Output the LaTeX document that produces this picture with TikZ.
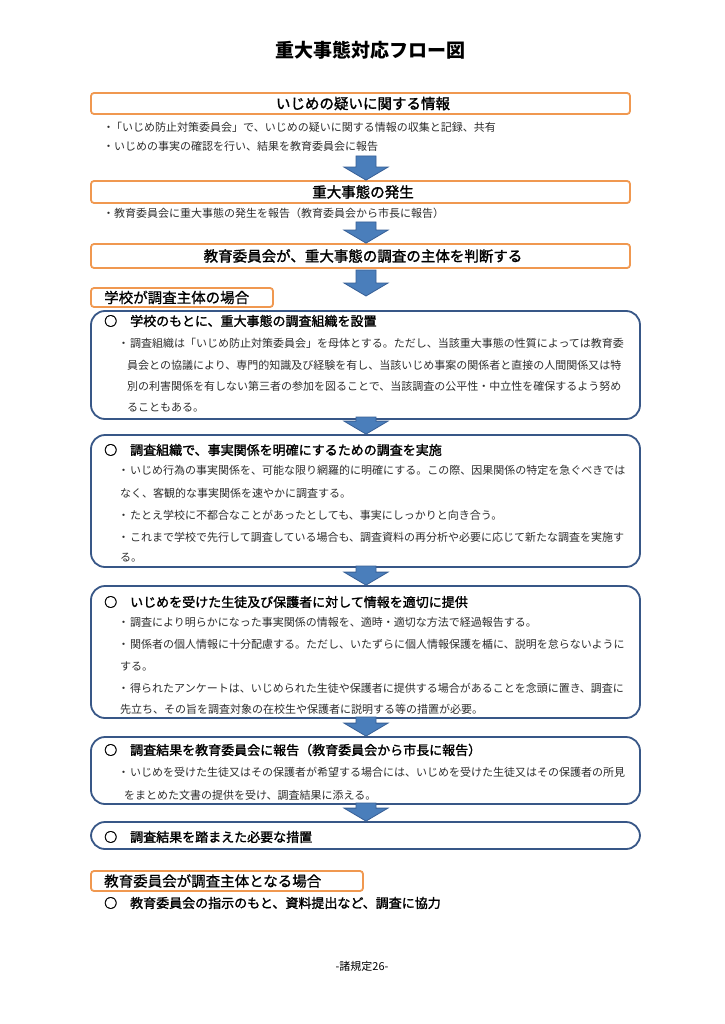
\documentclass[tikz,border=0pt]{standalone}
\usepackage{fontspec}
\setmainfont{Noto Sans CJK JP}
\newfontfamily\medfont{Noto Sans CJK JP}[FakeBold=1.6]
\newfontfamily\semifont{Noto Sans CJK JP}[FakeBold=0.8]
\usetikzlibrary{calc}
\definecolor{orangeline}{RGB}{240,152,80}
\definecolor{blueline}{RGB}{56,87,135}
\definecolor{arrowfill}{RGB}{74,126,187}
\definecolor{arrowline}{RGB}{55,95,150}
\definecolor{textgray}{RGB}{45,45,45}
\newcommand{\blockarrow}[2]{%
  \draw[arrowstyle] let \p1=(#1), \p2=(#2) in
    ({\x1-10pt},\y1) -- ({\x1+10pt},\y1) -- ({\x1+10pt},{\y2+13pt}) --
    ({\x1+22pt},{\y2+13pt}) -- (\x1,\y2) -- ({\x1-22pt},{\y2+13pt}) --
    ({\x1-10pt},{\y2+13pt}) -- cycle;}
\begin{document}
\begin{tikzpicture}[x=1pt,y=-1pt,
  obox/.style={draw=orangeline, line width=1.8pt, rounded corners=3pt, inner sep=0pt},
  bbox/.style={draw=blueline, line width=1.8pt, rounded corners=14pt, inner sep=0pt},
  boxhead/.style={font=\medfont\fontsize{14.5}{16}\selectfont, inner sep=0pt},
  labeltxt/.style={font=\semifont\fontsize{14.5}{16}\selectfont, anchor=west, inner sep=0pt},
  bhead/.style={font=\medfont\fontsize{13}{15}\selectfont, anchor=west, inner sep=0pt},
  linetxt/.style={font=\fontsize{11}{13}\selectfont, anchor=west, inner sep=0pt, text=textgray},
  arrowstyle/.style={draw=arrowline, fill=arrowfill, line width=0.8pt, line join=miter},
]
\fill[white] (0,0) rectangle (724,1024);
\useasboundingbox (0,0) rectangle (724,1024);

% title
\node[font=\fontsize{19}{22}\selectfont\bfseries, inner sep=0pt] (title) at (370,50) {重大事態対応フロー図};

% box 1
\node[obox, minimum width=539pt, minimum height=21pt] (b1) at (360.5,103.5) {};
\node[boxhead] (b1t) at (363,103.5) {いじめの疑いに関する情報};
\node[linetxt] (b1l1) at (103,127) {・\hspace{-3pt}「いじめ防止対策委員会」で、いじめの疑いに関する情報の収集と記録、共有};
\node[linetxt] (b1l2) at (103,146) {・いじめの事実の確認を行い、結果を教育委員会に報告};

% box 2
\node[obox, minimum width=539pt, minimum height=22pt] (b2) at (360.5,192) {};
\node[boxhead] (b2t) at (363,192) {重大事態の発生};
\node[linetxt] (b2l1) at (103,213) {・教育委員会に重大事態の発生を報告（教育委員会から市長に報告）};

% box 3
\node[obox, minimum width=539pt, minimum height=24pt] (b3) at (360.5,256) {};
\node[boxhead] (b3t) at (363,256) {教育委員会が、重大事態の調査の主体を判断する};

% label 1
\node[obox, minimum width=182pt, minimum height=19pt] (b4) at (182,297.5) {};
\node[labeltxt] (b4t) at (104,297.5) {学校が調査主体の場合};

% blue box A
\node[bbox, minimum width=549pt, minimum height=108pt] (bA) at (365.5,365) {};
\node[bhead] (bAh) at (104,321) {○　学校のもとに、重大事態の調査組織を設置};
\node[linetxt] (bA1) at (118,343) {・\hspace{1pt}調査組織は「いじめ防止対策委員会」を母体とする。ただし、当該重大事態の性質によっては教育委};
\node[linetxt] (bA2) at (127,365) {員会との協議により、専門的知識及び経験を有し、当該いじめ事案の関係者と直接の人間関係又は特};
\node[linetxt] (bA3) at (127,386) {別の利害関係を有しない第三者の参加を図ることで、当該調査の公平性・中立性を確保するよう努め};
\node[linetxt] (bA4) at (127,407) {ることもある。};

% blue box B
\node[bbox, minimum width=549pt, minimum height=132pt] (bB) at (365.5,501) {};
\node[bhead] (bBh) at (104,450) {○　調査組織で、事実関係を明確にするための調査を実施};
\node[linetxt] (bB1) at (118,470) {・\hspace{1pt}いじめ行為の事実関係を、可能な限り網羅的に明確にする。この際、因果関係の特定を急ぐべきでは};
\node[linetxt] (bB2) at (120,493) {なく、客観的な事実関係を速やかに調査する。};
\node[linetxt] (bB3) at (118,515) {・\hspace{1pt}たとえ学校に不都合なことがあったとしても、事実にしっかりと向き合う。};
\node[linetxt] (bB4) at (118,537) {・\hspace{1pt}これまで学校で先行して調査している場合も、調査資料の再分析や必要に応じて新たな調査を実施す};
\node[linetxt] (bB5) at (120,558) {る。};

% blue box C
\node[bbox, minimum width=549pt, minimum height=132pt] (bC) at (365.5,652) {};
\node[bhead] (bCh) at (104,602) {○　いじめを受けた生徒及び保護者に対して情報を適切に提供};
\node[linetxt] (bC1) at (118,622) {・\hspace{1pt}調査により明らかになった事実関係の情報を、適時・適切な方法で経過報告する。};
\node[linetxt] (bC2) at (118,644) {・\hspace{1pt}関係者の個人情報に十分配慮する。ただし、いたずらに個人情報保護を楯に、説明を怠らないように};
\node[linetxt] (bC3) at (120,666) {する。};
\node[linetxt] (bC4) at (118,688) {・\hspace{1pt}得られたアンケートは、いじめられた生徒や保護者に提供する場合があることを念頭に置き、調査に};
\node[linetxt] (bC5) at (120,709) {先立ち、その旨を調査対象の在校生や保護者に説明する等の措置が必要。};

% blue box D
\node[bbox, minimum width=549pt, minimum height=67pt] (bD) at (365.5,770.5) {};
\node[bhead] (bDh) at (104,750) {○　調査結果を教育委員会に報告（教育委員会から市長に報告）};
\node[linetxt] (bD1) at (118,772) {・\hspace{1pt}いじめを受けた生徒又はその保護者が希望する場合には、いじめを受けた生徒又はその保護者の所見};
\node[linetxt] (bD2) at (124,795) {をまとめた文書の提供を受け、調査結果に添える。};

% blue box E
\node[bbox, minimum width=549pt, minimum height=27pt] (bE) at (365.5,835.5) {};
\node[bhead] (bEh) at (104,837) {○　調査結果を踏まえた必要な措置};

% label 2
\node[obox, minimum width=272pt, minimum height=20pt] (b5) at (227,881) {};
\node[labeltxt] (b5t) at (104,881) {教育委員会が調査主体となる場合};
\node[bhead] (b5l) at (104,903) {○　教育委員会の指示のもと、資料提出など、調査に協力};

% footer
\node[font=\fontsize{11}{13}\selectfont, inner sep=0pt] (foot) at (362,966) {-諸規定26-};

% block arrows
\coordinate (a1) at (366,156);
\coordinate (a2) at (366,222);
\coordinate (a3) at (366,270);
\coordinate (a3e) at (366,296);
\coordinate (a4) at (366,417);
\coordinate (a5) at (366,566);
\coordinate (a6) at (366,717);
\coordinate (a7) at (366,803);
\blockarrow{a1}{b2.north}
\blockarrow{a2}{b3.north}
\blockarrow{a3}{a3e}
\blockarrow{a4}{bB.north}
\blockarrow{a5}{bC.north}
\blockarrow{a6}{bD.north}
\blockarrow{a7}{bE.north}
\end{tikzpicture}
\end{document}
